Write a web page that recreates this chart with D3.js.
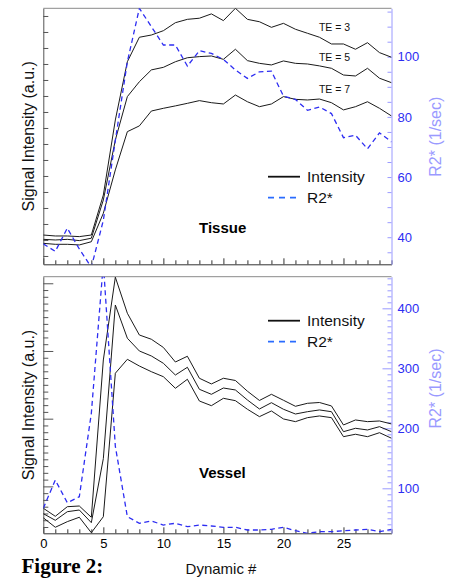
<!DOCTYPE html>
<html>
<head>
<meta charset="utf-8">
<script src="https://cdn.jsdelivr.net/npm/d3@7/dist/d3.min.js"></script>
<style>
  body { margin: 0; background: #fff; }
  svg { display: block; font-family: "Liberation Sans", Arial, sans-serif; }
</style>
</head>
<body>
<script>
// dynamic scan number
var dynamic = [0,1,2,3,4,5,6,7,8,9,10,11,12,13,14,15,16,17,18,19,20,21,22,23,24,25,26,27,28,29];

// Tissue panel
var tissueTE3 = [113.1,112.5,112.5,112.1,113.1,138.1,185,221.4,236.7,238.1,240.8,245.8,247.9,248.6,251.3,247.1,254.8,247.9,246.4,242.9,245.4,241.7,239.2,236.7,232.5,232.5,229.2,233.3,227.1,224.2];
var tissueTE5 = [110.4,110,110.4,109.6,111.1,135,172.5,199.6,208.9,216.3,217.9,221.4,223.9,224.6,225,222.9,229.2,222.1,220.4,219.4,221.9,220.4,220,218.8,217.3,213.1,212.5,217.3,211.1,208.3];
var tissueTE7 = [107.9,107.3,107.3,106.9,108.9,126.7,153.8,177.7,181.3,190.6,192.3,193.8,195.4,197.1,195.8,195,200.6,196.4,193.3,195,199.6,197.9,197.5,198.1,195.8,191.3,193.3,196.4,192.3,187.5];
var tissueR2 = [37.8,35.3,43,36.1,30,45.6,72.2,98.3,116.1,110,103.9,103.9,96.9,102,101.1,99.1,95.6,92.8,95,95.2,86.9,85.8,82.2,83.3,81.1,73.1,73.9,69.4,74.7,71.7];

// Vessel panel
var vesselTE3 = [67.7,55.8,70,71,54.4,286.7,409,355.7,323.6,317.3,305.2,283.7,292.2,259.7,251.3,259.7,256.4,240.6,226.9,236,227.2,218.3,222.7,223.9,218.8,190.7,198.1,195.6,196.6,192.2];
var vesselTE5 = [59.7,49.9,62.6,65.1,46.4,141,367.9,318.8,300,292.6,281.8,264.5,275.9,243.4,236,245.3,242.4,227.6,214.3,223.6,213.9,206.9,210.3,212.9,210.3,180.8,185.8,183.3,188.2,180.8];
var vesselTE7 = [53.6,39.6,47.9,54.4,31.6,55.2,267.1,287.7,277.8,269.4,262,244.9,258.2,226.1,219.2,230.1,226.6,213.9,203,211.4,199.6,195.6,201.5,204,201.5,173.4,177,173.4,179.3,171.1];
var vesselR2 = [66.7,113.8,76,86,225,475,170,52.7,41.7,45.5,38.8,41.7,36,38.8,37.2,35,35,30.5,30.5,31.7,35,29.3,25,27.7,27.7,29.3,30.5,31.7,27.7,31.7];

// tick labels
var xTickLabels = [0,5,10,15,20,25];
var tissueR2Labels = [40,60,80,100];
var vesselR2Labels = [100,200,300,400];

var w = 455, h = 578;
var left = 43.3, right = 391.5;
var blue = "#2d2df2";
var axisBlue = "#9a9aff";

var xScale = d3.scaleLinear().domain([0, 29]).range([left, right]);

var svg = d3.select("body").append("svg")
  .attr("width", w).attr("height", h);
svg.append("rect").attr("width", w).attr("height", h).attr("fill", "#fff");

var panel = function(cfg) {
  var yL = d3.scaleLinear().domain(cfg.leftDomain).range([cfg.bottom, cfg.top]);
  var yR = d3.scaleLinear().domain(cfg.rightDomain).range([cfg.bottom, cfg.top]);
  var g = svg.append("g");

  g.append("clipPath").attr("id", "clip-" + cfg.name)
    .append("rect")
    .attr("x", left).attr("y", cfg.top)
    .attr("width", right - left).attr("height", cfg.bottom - cfg.top);

  // top frame
  g.append("line")
    .attr("x1", left).attr("x2", right)
    .attr("y1", cfg.top).attr("y2", cfg.top)
    .attr("stroke", "#8a8a8a").attr("stroke-width", 1);

  // bottom axis
  var xAxis = d3.axisBottom(xScale)
    .tickValues(dynamic)
    .tickSizeOuter(0)
    .tickFormat(function(d) {
      return cfg.labels && xTickLabels.indexOf(d) >= 0 ? d : "";
    });
  var gx = g.append("g")
    .attr("transform", "translate(0," + cfg.bottom + ")")
    .call(xAxis);
  gx.selectAll(".tick line")
    .attr("y2", function(d) { return d % 5 === 0 ? -6 : -4; })
    .attr("stroke", "#333");
  gx.selectAll(".tick text")
    .attr("y", 5).attr("font-size", 13).attr("fill", "#000")
    .attr("font-family", "Liberation Sans, Arial, sans-serif");
  gx.select(".domain").attr("stroke", "#333");

  // left axis, no labels
  var yAxis = d3.axisLeft(yL)
    .tickValues(cfg.leftTicks)
    .tickSizeOuter(0)
    .tickFormat("");
  var gy = g.append("g")
    .attr("transform", "translate(" + left + ",0)")
    .call(yAxis);
  gy.selectAll(".tick line")
    .attr("x2", function(d) { return cfg.leftMajor(d) ? 10 : 5; })
    .attr("stroke", "#555");
  gy.select(".domain").attr("stroke", "#555");

  // right axis (R2*)
  var rAxis = d3.axisRight(yR)
    .tickValues(cfg.rightTicks)
    .tickSizeOuter(0)
    .tickFormat(function(d) { return cfg.rightLabels.indexOf(d) >= 0 ? d : ""; });
  var gr = g.append("g")
    .attr("transform", "translate(" + right + ",0)")
    .call(rAxis);
  gr.selectAll(".tick line")
    .attr("x2", function(d) { return cfg.rightMajor(d) ? -9 : -4; })
    .attr("stroke", axisBlue);
  gr.selectAll(".tick text")
    .attr("x", 6).attr("font-size", 13).attr("fill", blue)
    .attr("font-family", "Liberation Sans, Arial, sans-serif");
  gr.select(".domain").attr("stroke", axisBlue);

  var plotArea = g.append("g").attr("clip-path", "url(#clip-" + cfg.name + ")");

  var lineL = d3.line()
    .x(function(d, i) { return xScale(dynamic[i]); })
    .y(function(d) { return yL(d); });
  var lineR = d3.line()
    .x(function(d, i) { return xScale(dynamic[i]); })
    .y(function(d) { return yR(d); });

  cfg.series.forEach(function(s) {
    plotArea.append("path")
      .datum(s)
      .attr("d", lineL)
      .attr("fill", "none")
      .attr("stroke", "#1a1a1a")
      .attr("stroke-width", 1);
  });

  plotArea.append("path")
    .datum(cfg.r2)
    .attr("d", lineR)
    .attr("fill", "none")
    .attr("stroke", blue)
    .attr("stroke-width", 1.3)
    .attr("stroke-dasharray", "5,3.5");

  // left title
  svg.append("text")
    .attr("transform", "translate(34," + ((cfg.top + cfg.bottom) / 2) + ") rotate(-90)")
    .attr("text-anchor", "middle")
    .attr("font-size", 16)
    .attr("fill", "#111")
    .text("Signal Intensity (a.u.)");

  // right title
  svg.append("text")
    .attr("transform", "translate(441," + cfg.rightTitleY + ") rotate(-90)")
    .attr("text-anchor", "middle")
    .attr("font-size", 16)
    .attr("fill", axisBlue)
    .text("R2* (1/sec)");

  // legend
  var lg = svg.append("g").attr("transform", "translate(268," + cfg.legendY + ")");
  lg.append("line").attr("x1", 0).attr("x2", 32).attr("y1", 0).attr("y2", 0)
    .attr("stroke", "#111").attr("stroke-width", 1.8);
  lg.append("line").attr("x1", 0).attr("x2", 32).attr("y1", 21).attr("y2", 21)
    .attr("stroke", "#2a6cff").attr("stroke-width", 1.8).attr("stroke-dasharray", "6,5");
  lg.append("text").attr("x", 39).attr("y", 0).attr("dy", "0.36em")
    .attr("font-size", 15.5).attr("fill", "#111").text("Intensity");
  lg.append("text").attr("x", 39).attr("y", 21).attr("dy", "0.36em")
    .attr("font-size", 15.5).attr("fill", "#111").text("R2*");

  // panel name
  svg.append("text")
    .attr("x", 199).attr("y", cfg.nameY).attr("dy", "0.36em")
    .attr("font-size", 15).attr("font-weight", "bold").attr("fill", "#000")
    .text(cfg.title);
};

panel({
  name: "tissue", title: "Tissue",
  top: 8.3, bottom: 264.3,
  leftDomain: [94.8, 254.8], rightDomain: [31, 116.1],
  leftTicks: d3.range(100, 251, 10),
  leftMajor: function(d) { return false; },
  rightTicks: d3.range(35, 116, 5),
  rightMajor: function(d) { return false; },
  rightLabels: tissueR2Labels,
  labels: false,
  series: [tissueTE3, tissueTE5, tissueTE7],
  r2: tissueR2,
  legendY: 176.7, nameY: 227.7, rightTitleY: 136.7
});

panel({
  name: "vessel", title: "Vessel",
  top: 276.7, bottom: 533.3,
  leftDomain: [30.7, 409.7], rightDomain: [25, 452.7],
  leftTicks: d3.range(40, 401, 10),
  leftMajor: function(d) { return d % 100 === 0; },
  rightTicks: d3.range(30, 451, 10),
  rightMajor: function(d) { return d % 100 === 0; },
  rightLabels: vesselR2Labels,
  labels: true,
  series: [vesselTE3, vesselTE5, vesselTE7],
  r2: vesselR2,
  legendY: 320.7, nameY: 472.7, rightTitleY: 388.5
});

// curve labels
var teLabels = [["TE = 3", 27.3], ["TE = 5", 57.3], ["TE = 7", 89.3]];
svg.selectAll("text.te")
  .data(teLabels)
  .enter()
  .append("text")
  .attr("class", "te")
  .attr("x", 334.5)
  .attr("y", function(d) { return d[1]; })
  .attr("dy", "0.36em")
  .attr("text-anchor", "middle")
  .attr("font-size", 10.5)
  .attr("fill", "#111")
  .text(function(d) { return d[0]; });

svg.append("text")
  .attr("x", 221).attr("y", 569).attr("dy", "0.36em")
  .attr("text-anchor", "middle")
  .attr("font-size", 15).attr("fill", "#111")
  .text("Dynamic #");

svg.append("text")
  .attr("x", 21.5).attr("y", 565.5).attr("dy", "0.34em")
  .attr("font-family", "Liberation Serif, Times New Roman, serif")
  .attr("font-size", 21).attr("font-weight", "bold").attr("fill", "#000")
  .text("Figure 2:");
</script>
</body>
</html>
